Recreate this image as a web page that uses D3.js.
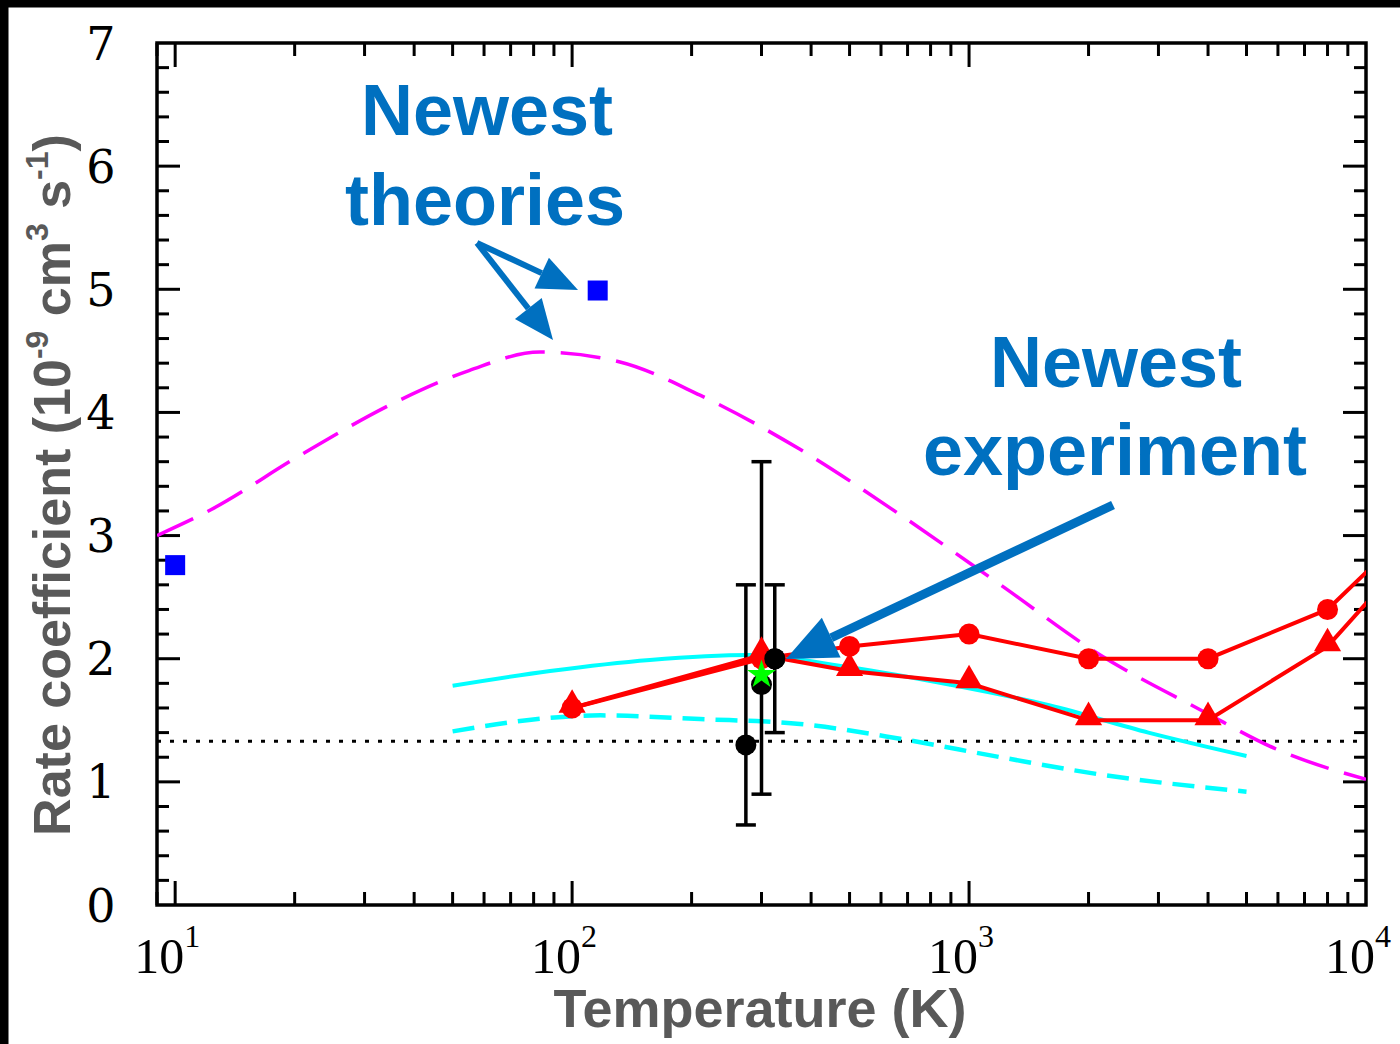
<!DOCTYPE html>
<html>
<head>
<meta charset="utf-8">
<script src="https://cdn.jsdelivr.net/npm/d3@7"></script>
<style>
  html, body { margin: 0; padding: 0; background: #fff; }
  svg { display: block; }
</style>
</head>
<body>
<svg id="chart" width="1400" height="1044"></svg>
<script>
// theory curves (T in K, rate in 1e-9 cm3/s)
const magentaT = [9, 12.3, 20.6, 36.8, 55, 83, 132, 210, 375, 670, 1200, 2140, 3800, 6000, 10000];
const magentaK = [3.0, 3.21, 3.65, 4.1, 4.34, 4.49, 4.41, 4.14, 3.7, 3.17, 2.6, 2.03, 1.59, 1.26, 1.02];

const cyanT = [50, 88, 157, 280, 500, 890, 1600, 2830, 5000];
const cyanK = [1.78, 1.9, 1.99, 2.03, 1.93, 1.79, 1.62, 1.4, 1.21];

const cyanDashT = [50, 88, 118, 210, 375, 670, 1200, 2140, 5000];
const cyanDashK = [1.41, 1.52, 1.54, 1.51, 1.47, 1.35, 1.2, 1.06, 0.92];

const redT = [100, 300, 500, 1000, 2000, 4000, 8000, 16000];
const redCircleK = [1.6, 2.0, 2.1, 2.2, 2.0, 2.0, 2.4, 3.33];
const redTriangleK = [1.6, 2.03, 1.9, 1.8, 1.5, 1.5, 2.1, 3.18];

const langevinK = 1.33;

// experiments with error bars
const expT = [274, 300, 324];
const expK = [1.3, 1.79, 2.0];
const expLo = [0.65, 0.9, 1.4];
const expHi = [2.6, 3.6, 2.6];

const starT = [300];
const starK = [1.87];

const squareT = [10, 116];
const squareK = [2.76, 4.99];

const yTicks = [0, 1, 2, 3, 4, 5, 6, 7];
const xDecades = [10, 100, 1000, 10000];

const svg = d3.select('#chart');
const margin = { left: 157, top: 43, right: 34, bottom: 139 };
const W = 1400, H = 1044;
const iw = W - margin.left - margin.right;
const ih = H - margin.top - margin.bottom;

// black frame on top and left
svg.append('rect').attr('x', 0).attr('y', 0).attr('width', W).attr('height', 7.5).attr('fill', '#000');
svg.append('rect').attr('x', 0).attr('y', 0).attr('width', 8.5).attr('height', H).attr('fill', '#000');

const x = d3.scaleLog().domain([9.0, 10000]).range([0, iw]);
const y = d3.scaleLinear().domain([0, 7]).range([ih, 0]);

const g = svg.append('g').attr('transform', 'translate(' + margin.left + ',' + margin.top + ')');

svg.append('defs').append('clipPath').attr('id', 'plotclip')
  .append('rect').attr('x', 0).attr('y', 0).attr('width', iw).attr('height', ih);

// ticks
const minorX = [];
[1, 10, 100, 1000].forEach((d) => {
  for (let k = 1; k <= 9; k++) {
    const v = d * k;
    if (v >= 9 && v <= 10000 && xDecades.indexOf(v) === -1) minorX.push(v);
  }
});
const minorY = d3.range(0, 7.01, 0.2).filter((v) => Math.abs(v - Math.round(v)) > 0.01);

const tickLayer = g.append('g').attr('stroke', '#000').attr('stroke-width', 3);
const addXTicks = (vals, len) => {
  vals.forEach((v) => {
    tickLayer.append('line').attr('x1', x(v)).attr('x2', x(v)).attr('y1', ih).attr('y2', ih - len);
    tickLayer.append('line').attr('x1', x(v)).attr('x2', x(v)).attr('y1', 0).attr('y2', len);
  });
};
const addYTicks = (vals, len) => {
  vals.forEach((v) => {
    tickLayer.append('line').attr('x1', 0).attr('x2', len).attr('y1', y(v)).attr('y2', y(v));
    tickLayer.append('line').attr('x1', iw).attr('x2', iw - len).attr('y1', y(v)).attr('y2', y(v));
  });
};
addXTicks(minorX, 13);
addXTicks(xDecades.filter((v) => v < 10000), 24);
addYTicks(minorY, 12);
addYTicks(yTicks.filter((v) => v > 0 && v < 7), 23);

// frame
g.append('rect').attr('x', 0).attr('y', 0).attr('width', iw).attr('height', ih)
  .attr('fill', 'none').attr('stroke', '#000').attr('stroke-width', 3.5);

// tick labels
const yLab = g.append('g').attr('font-family', '"DejaVu Serif", serif').attr('font-size', 46).attr('fill', '#000');
yTicks.forEach((v) => {
  yLab.append('text').attr('x', -56).attr('y', y(v)).attr('dy', '0.36em')
    .attr('text-anchor', 'middle').text(v);
});
const xLab = g.append('g').attr('font-family', '"Liberation Serif", serif').attr('fill', '#000');
xDecades.forEach((v) => {
  const t = xLab.append('text').attr('x', x(v) - 8).attr('y', ih + 68).attr('text-anchor', 'middle')
    .attr('font-size', 50);
  t.append('tspan').text('10');
  t.append('tspan').attr('font-size', 32).attr('dy', -26).text(Math.round(Math.log10(v)));
});

// axis titles
svg.append('text').attr('x', 760).attr('y', 1027).attr('text-anchor', 'middle')
  .attr('font-family', '"Liberation Sans", Arial, sans-serif').attr('font-weight', 'bold')
  .attr('font-size', 54).attr('fill', '#595959').text('Temperature (K)');

const yt = svg.append('text').attr('transform', 'translate(70,485) rotate(-90)').attr('text-anchor', 'middle')
  .attr('font-family', '"Liberation Sans", Arial, sans-serif').attr('font-weight', 'bold')
  .attr('font-size', 52).attr('fill', '#595959');
yt.append('tspan').text('Rate coefficient (10');
yt.append('tspan').attr('font-size', 32).attr('dy', -22).text('-9');
yt.append('tspan').attr('dy', 22).text(' cm');
yt.append('tspan').attr('font-size', 32).attr('dy', -22).text('3');
yt.append('tspan').attr('dy', 22).text(' s');
yt.append('tspan').attr('font-size', 32).attr('dy', -22).text('-1');
yt.append('tspan').attr('dy', 22).text(')');

// data layer
const plot = g.append('g').attr('clip-path', 'url(#plotclip)');
const smooth = d3.line().x((d) => x(d[0])).y((d) => y(d[1])).curve(d3.curveMonotoneX);
const straight = d3.line().x((d) => x(d[0])).y((d) => y(d[1]));

plot.append('line').attr('x1', 0).attr('x2', iw).attr('y1', y(langevinK)).attr('y2', y(langevinK))
  .attr('stroke', '#000').attr('stroke-width', 3).attr('stroke-dasharray', '4,9');

plot.append('path').datum(d3.zip(magentaT, magentaK)).attr('d', smooth)
  .attr('fill', 'none').attr('stroke', '#ff00ff').attr('stroke-width', 3.5).attr('stroke-dasharray', '40,16');

plot.append('path').datum(d3.zip(cyanDashT, cyanDashK)).attr('d', smooth)
  .attr('fill', 'none').attr('stroke', '#00ffff').attr('stroke-width', 4.5).attr('stroke-dasharray', '22,11');

plot.append('path').datum(d3.zip(cyanT, cyanK)).attr('d', smooth)
  .attr('fill', 'none').attr('stroke', '#00ffff').attr('stroke-width', 4);

// error bars
const eb = plot.append('g').attr('stroke', '#000').attr('stroke-width', 3.5);
expT.forEach((t, i) => {
  eb.append('line').attr('x1', x(t)).attr('x2', x(t)).attr('y1', y(expLo[i])).attr('y2', y(expHi[i]));
  [expLo[i], expHi[i]].forEach((v) => {
    eb.append('line').attr('x1', x(t) - 10).attr('x2', x(t) + 10).attr('y1', y(v)).attr('y2', y(v));
  });
});

plot.selectAll('circle.exp').data(d3.zip(expT, expK)).enter().append('circle')
  .attr('class', 'exp').attr('cx', (d) => x(d[0])).attr('cy', (d) => y(d[1])).attr('r', 10.5).attr('fill', '#000');

plot.append('path').datum(d3.zip(redT, redTriangleK)).attr('d', straight)
  .attr('fill', 'none').attr('stroke', '#ff0000').attr('stroke-width', 4);
plot.append('path').datum(d3.zip(redT, redCircleK)).attr('d', straight)
  .attr('fill', 'none').attr('stroke', '#ff0000').attr('stroke-width', 4);

plot.selectAll('circle.rc').data(d3.zip(redT, redCircleK)).enter().append('circle')
  .attr('class', 'rc').attr('cx', (d) => x(d[0])).attr('cy', (d) => y(d[1])).attr('r', 10.5).attr('fill', '#ff0000');
plot.selectAll('path.rt').data(d3.zip(redT, redTriangleK)).enter().append('path')
  .attr('class', 'rt').attr('transform', (d) => 'translate(' + x(d[0]) + ',' + (y(d[1]) - 3) + ')')
  .attr('d', d3.symbol().type(d3.symbolTriangle).size(320)).attr('fill', '#ff0000');

// expt point at 324 K drawn above the red line
plot.selectAll('circle.exp2').data(d3.zip(expT, expK).slice(2)).enter().append('circle')
  .attr('class', 'exp2').attr('cx', (d) => x(d[0])).attr('cy', (d) => y(d[1])).attr('r', 10.5).attr('fill', '#000');

plot.selectAll('path.star').data(d3.zip(starT, starK)).enter().append('path')
  .attr('class', 'star').attr('transform', (d) => 'translate(' + x(d[0]) + ',' + y(d[1]) + ')')
  .attr('d', d3.symbol().type(d3.symbolStar).size(260)).attr('fill', '#00ff00');

plot.selectAll('rect.sq').data(d3.zip(squareT, squareK)).enter().append('rect')
  .attr('class', 'sq').attr('x', (d) => x(d[0]) - 10).attr('y', (d) => y(d[1]) - 10)
  .attr('width', 20).attr('height', 20).attr('fill', '#0000ff');

// annotations
const blue = '#0070c0';
const ann = svg.append('g').attr('font-family', '"Liberation Sans", Arial, sans-serif')
  .attr('font-weight', 'bold').attr('font-size', 72).attr('fill', blue).attr('text-anchor', 'middle');
ann.append('text').attr('x', 487).attr('y', 135).text('Newest');
ann.append('text').attr('x', 485).attr('y', 225).text('theories');
ann.append('text').attr('x', 1116).attr('y', 387).text('Newest');
ann.append('text').attr('x', 1115).attr('y', 475).text('experiment');

const arrow = (x0, y0, x1, y1, w, headLen, headW) => {
  const a = Math.atan2(y1 - y0, x1 - x0);
  const bx = x1 - headLen * Math.cos(a), by = y1 - headLen * Math.sin(a);
  svg.append('line').attr('x1', x0).attr('y1', y0).attr('x2', bx).attr('y2', by)
    .attr('stroke', blue).attr('stroke-width', w);
  const px = -Math.sin(a) * headW / 2, py = Math.cos(a) * headW / 2;
  svg.append('path')
    .attr('d', 'M' + x1 + ',' + y1 + 'L' + (bx + px) + ',' + (by + py) + 'L' + (bx - px) + ',' + (by - py) + 'Z')
    .attr('fill', blue);
};
arrow(477, 243, 578, 290, 6, 40, 34);
arrow(477, 243, 553, 340, 6, 40, 34);
arrow(1113, 505, 786, 659, 9, 50, 44);
</script>
</body>
</html>
